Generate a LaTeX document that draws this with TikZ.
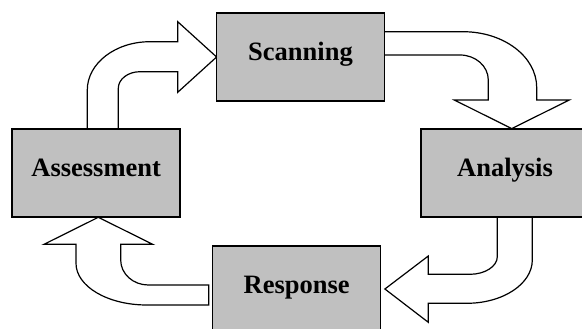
\documentclass[tikz,border=0pt]{standalone}
\usepackage{fontspec}
\setmainfont{Liberation Serif}
\begin{document}
\begin{tikzpicture}[x=1pt,y=-1pt,
  stagebox/.style={draw=black, line width=1.5pt, fill=boxgray, minimum width=168pt,
    inner sep=0pt, text height=47.5pt, text depth=40.5pt,
    font=\fontsize{26.5}{30}\selectfont\bfseries},
  blockarrow/.style={draw=black, line width=1.2pt, fill=white, line join=miter}]
\definecolor{boxgray}{RGB}{192,192,192}
\useasboundingbox (0,0) rectangle (582,329);
\clip (0,0) rectangle (582,329);
% stage boxes (named for reference; drawn after arrows below)
\path (300.5,57) coordinate (cscan)
      (505,173) coordinate (cana)
      (296.7,290) coordinate (cresp)
      (96.2,173) coordinate (cass);
% Assessment -> Scanning
\draw[blockarrow] (87.3,129) -- (87.3,90)
  .. controls (87.3,63.3) and (115.4,41.7) .. (150,41.7)
  -- (177.7,41.7) -- (177.7,21.7) -- (216.6,57) -- (177.7,92.3) -- (177.7,71.7)
  -- (140,71.7) .. controls (128,71.7) and (118.3,79.2) .. (118.3,88.3)
  -- (118.3,129) -- cycle;
% Scanning -> Analysis
\draw[blockarrow] (384.3,31.7) -- (463,31.7)
  .. controls (503.7,31.7) and (536.7,56.6) .. (536.7,87.5)
  -- (536.7,100) -- (569.3,100) -- (511.7,128.6) -- (454.3,100) -- (488.3,100)
  -- (488.3,80) .. controls (488.3,66.2) and (475.6,55) .. (460,55)
  -- (384.3,55) -- cycle;
% Analysis -> Response
\draw[blockarrow] (497.3,217) -- (497.3,256.7)
  .. controls (497.3,266.4) and (484.9,274.3) .. (470,274.3)
  -- (428.3,274.3) -- (428.3,256) -- (384.9,289) -- (428.3,322.3) -- (428.3,303.3)
  -- (466.7,303.3) .. controls (503,303.3) and (532.3,283.9) .. (532.3,260)
  -- (532.3,217) -- cycle;
% Response -> Assessment
\draw[blockarrow] (208.7,285) -- (148.3,285)
  .. controls (133,285) and (120.7,273.8) .. (120.7,260)
  -- (120.7,244.3) -- (152.7,244.3) -- (98.3,217.3) -- (44,244.3) -- (76,244.3)
  -- (76,263.3) .. controls (76,286.3) and (107.6,305) .. (146.7,305)
  -- (208.7,305) -- cycle;
% boxes
\node[stagebox] (scan) at (cscan) {Scanning};
\node[stagebox] (ana) at (cana) {Analysis};
\node[stagebox] (resp) at (cresp) {Response};
\node[stagebox] (ass) at (cass) {Assessment};
\end{tikzpicture}
\end{document}
